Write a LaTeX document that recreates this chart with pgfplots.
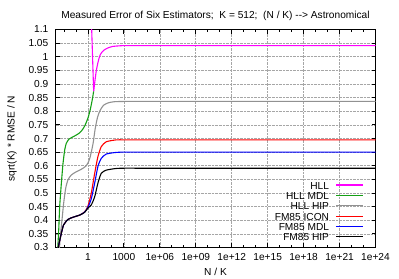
\documentclass[border=0pt]{standalone}
\usepackage{fontspec}
\setmainfont{Liberation Sans}
\usepackage{pgfplots}
\pgfplotsset{compat=1.18}
\definecolor{cHLL}{RGB}{255,0,255}
\definecolor{cMDL}{RGB}{20,160,20}
\definecolor{cHIP}{RGB}{145,145,145}
\definecolor{cICON}{RGB}{255,0,0}
\definecolor{cFMDL}{RGB}{0,0,255}
\definecolor{cFHIP}{RGB}{0,0,0}
\begin{document}
\begin{tikzpicture}
\begin{axis}[
  scale only axis, width=320bp, height=218bp,
  xmin=-2.709, xmax=24, ymin=0.3, ymax=1.1,
  font=\fontsize{10.2}{12}\selectfont,
  /pgf/number format/assume math mode=true,
  xtick={0,3,6,9,12,15,18,21,24},
  xticklabels={1,1000,1e+06,1e+09,1e+12,1e+15,1e+18,1e+21,1e+24},
  minor xtick={-2,-1,1,2,4,5,7,8,10,11,13,14,16,17,19,20,22,23},
  ytick={0.3,0.35,0.4,0.45,0.5,0.55,0.6,0.65,0.7,0.75,0.8,0.85,0.9,0.95,1,1.05,1.1},
  yticklabels={0.3,0.35,0.4,0.45,0.5,0.55,0.6,0.65,0.7,0.75,0.8,0.85,0.9,0.95,1,1.05,1.1},
  tick align=inside, major tick length=4bp, minor tick length=2.5bp,
  tick style={black, line width=0.9pt},
  axis line style={line width=1.5pt},
  xmajorgrids, ymajorgrids,
  major grid style={densely dotted, gray!70, line width=0.6pt},
  xticklabel style={anchor=base, yshift=-12.5bp, inner sep=0pt},
  yticklabel style={anchor=east, xshift=-7bp, inner sep=0pt},
  every axis title/.style={at={(axis description cs:0.5,1)}, anchor=base, yshift=11bp},
  every axis x label/.style={at={(axis description cs:0.5,0)}, anchor=base, yshift=-27.5bp},
  every axis y label/.style={at={(axis description cs:-0.128,0.5)}, anchor=base, rotate=90},
  title={Measured Error of Six Estimators;\ \ K = 512;\ \ (N / K) -{}-> Astronomical},
  xlabel={N / K},
  ylabel={sqrt(K) * RMSE / N},
  legend plot pos=right, legend cell align=right,
  legend style={draw=none, fill=none, at={(axis description cs:0.973,0.008)}, anchor=south east,
    nodes={inner sep=0.5pt, text height=7.2pt, text depth=2.2pt}, row sep=0pt, column sep=6pt},
  legend image code/.code={\draw[#1, line width=1.2pt] (0bp,1.5bp) -- (27bp,1.5bp);},
  every axis plot/.append style={line width=1.1pt},
]
% HLL
\addplot[cHLL, forget plot] coordinates {(0.24,1.2) (0.475,0.873)};
\addplot[cHLL, smooth, tension=0.4] coordinates {
(0.475,0.873) (0.55,0.900) (0.69,0.947) (0.83,0.978) (0.975,1.002) (1.15,1.016)
(1.39,1.026) (1.7,1.033) (2.08,1.038) (2.6,1.040) (3.06,1.041) (4,1.041) (5,1.041)
(6,1.041) (8,1.041) (10,1.041) (12,1.041) (14,1.041) (16,1.041) (18,1.041) (20,1.041) (22,1.041) (24,1.041)};
\addlegendentry{HLL}
% HLL MDL
\addplot[cMDL, smooth, tension=0.4] coordinates {
(-2.56,0.27) (-2.5,0.315) (-2.44,0.364) (-2.36,0.450) (-2.22,0.536) (-2.08,0.609)
(-1.94,0.658) (-1.81,0.682) (-1.6,0.697) (-1.3,0.705) (-1.0,0.712) (-0.69,0.721)
(-0.45,0.733) (-0.25,0.748) (0,0.775) (0.19,0.806) (0.35,0.840) (0.475,0.873)};
\addlegendentry{HLL MDL}
% HLL HIP
\addplot[cHIP, smooth, tension=0.4] coordinates {
(-2.42,0.28) (-2.36,0.309) (-2.31,0.340) (-2.14,0.413) (-2.03,0.462) (-1.86,0.517)
(-1.67,0.548) (-1.39,0.566) (-0.975,0.578) (-0.56,0.587) (-0.14,0.600) (0.14,0.625)
(0.42,0.680) (0.6,0.735) (0.8,0.778) (1.0,0.802) (1.3,0.822) (1.7,0.831) (2.2,0.835)
(3,0.836) (4,0.836) (5,0.836) (6,0.836) (8,0.836) (10,0.836) (12,0.836) (14,0.836)
(16,0.836) (18,0.836) (20,0.836) (22,0.836) (24,0.836)};
\addlegendentry{HLL HIP}
% FM85 ICON
\addplot[cICON, smooth, tension=0.4] coordinates {
(-2.6,0.27) (-2.44,0.309) (-2.22,0.352) (-2.03,0.383) (-1.67,0.403) (-1.25,0.411)
(-0.69,0.419) (-0.275,0.431) (0,0.452) (0.275,0.499) (0.56,0.572) (0.83,0.633)
(1.11,0.670) (1.53,0.688) (2.36,0.695) (3,0.695) (4,0.695) (5,0.695) (6,0.695)
(8,0.695) (10,0.695) (12,0.695) (14,0.695) (16,0.695) (18,0.695) (20,0.695) (22,0.695) (24,0.695)};
\addlegendentry{FM85 ICON}
% FM85 MDL
\addplot[cFMDL, smooth, tension=0.4] coordinates {
(-2.6,0.27) (-2.44,0.309) (-2.22,0.352) (-2.03,0.383) (-1.67,0.403) (-1.25,0.411)
(-0.69,0.419) (-0.275,0.430) (0,0.448) (0.275,0.478) (0.56,0.536) (0.83,0.597)
(1.11,0.627) (1.53,0.643) (2.36,0.649) (3,0.650) (4,0.650) (5,0.650) (6,0.650)
(8,0.650) (10,0.650) (12,0.650) (14,0.650) (16,0.650) (18,0.650) (20,0.650) (22,0.650) (24,0.650)};
\addlegendentry{FM85 MDL}
% FM85 HIP
\addplot[cFHIP, smooth, tension=0.4] coordinates {
(-2.6,0.27) (-2.44,0.309) (-2.22,0.352) (-2.03,0.383) (-1.67,0.403) (-1.25,0.411)
(-0.69,0.419) (-0.275,0.429) (0,0.445) (0.275,0.456) (0.56,0.486) (0.83,0.536)
(1.11,0.572) (1.53,0.584) (2.36,0.590) (3,0.591) (4,0.591) (5,0.591) (6,0.591)
(8,0.591) (10,0.591) (12,0.591) (14,0.591) (16,0.591) (18,0.591) (20,0.591) (22,0.591) (24,0.591)};
\addlegendentry{FM85 HIP}
\end{axis}
\pgfresetboundingbox
\path (-55.5bp,-31.5bp) rectangle (343.5bp,247.5bp);
\end{tikzpicture}
\end{document}
